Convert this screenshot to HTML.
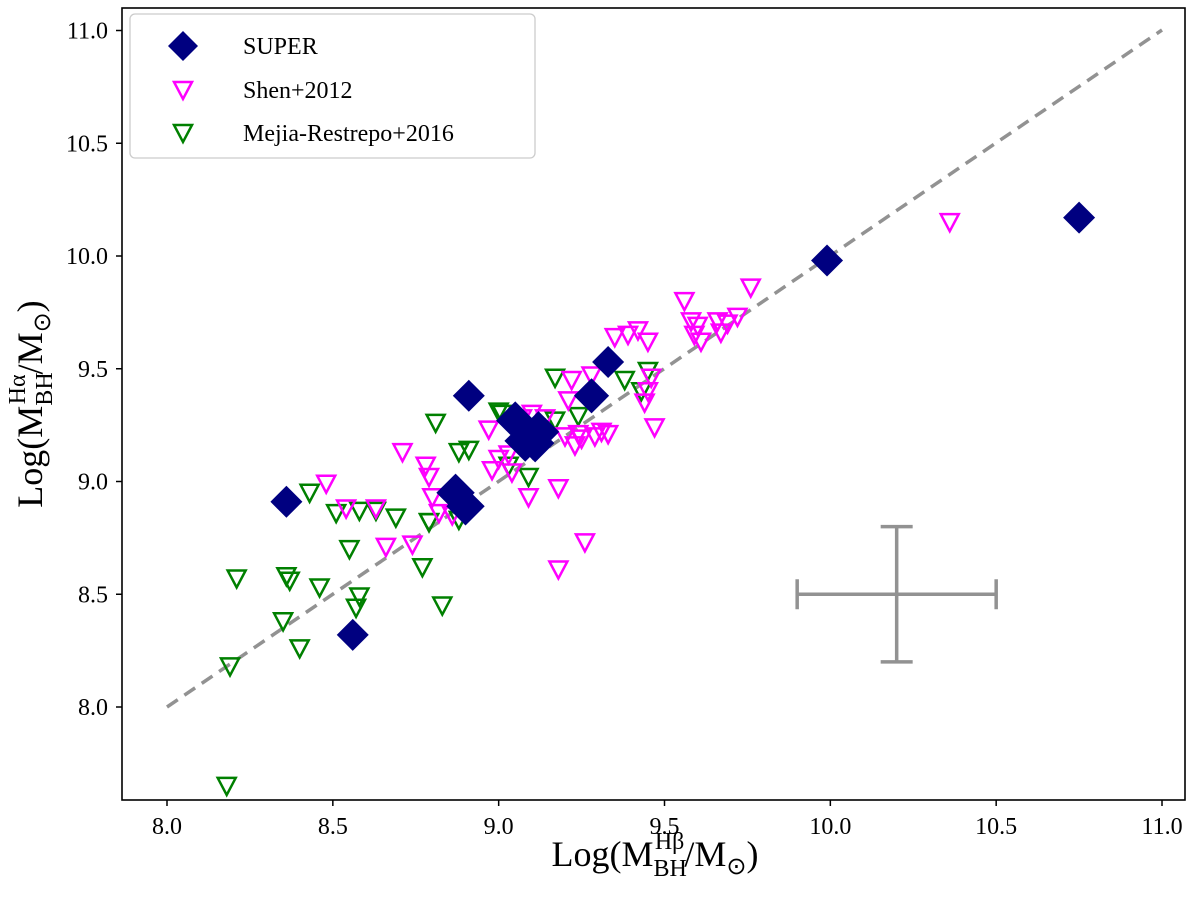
<!DOCTYPE html>
<html><head><meta charset="utf-8"><style>
html,body{margin:0;padding:0;background:#fff}
svg{display:block;font-family:"Liberation Serif",serif}
</style></head><body>
<svg id="chart" width="1200" height="901">
<rect x="122" y="8" width="1063" height="792" fill="#fff" stroke="#000" stroke-width="1.6"/>
<g id="ticks"></g>
<line x1="167" y1="707" x2="1162" y2="30" stroke="#929292" stroke-width="3.5" stroke-dasharray="13,8"/>
<g id="marks"></g>
<g id="errbar"></g>
<g>
<rect x="130" y="14" width="405" height="144" rx="5" fill="#fff" fill-opacity="0.85" stroke="#ccc" stroke-width="1.3"/>
<g><path d="M183,31 L198,46 L183,61 L168,46 Z" fill="#000080"/><text x="243" y="54" font-size="24">SUPER</text></g>
<g><path d="M174,82 L192,82 L183,99 Z" fill="none" stroke="#ff00ff" stroke-width="2.5"/><text x="243" y="98" font-size="24">Shen+2012</text></g>
<g><path d="M174,125 L192,125 L183,142 Z" fill="none" stroke="#008000" stroke-width="2.5"/><text x="243" y="141" font-size="24">Mejia-Restrepo+2016</text></g>
</g>
<text x="655" y="866" font-size="36" text-anchor="middle">Log(M<tspan font-size="24" dy="10">BH</tspan><tspan font-size="24" dx="-32" dy="-27">Hβ</tspan><tspan dy="17">/M</tspan><tspan font-size="24" dy="8">⊙</tspan><tspan dy="-8">)</tspan></text>
<text transform="translate(42,404) rotate(-90)" font-size="36" text-anchor="middle">Log(M<tspan font-size="24" dy="10">BH</tspan><tspan font-size="24" dx="-32" dy="-27">Hα</tspan><tspan dy="17">/M</tspan><tspan font-size="24" dy="8">⊙</tspan><tspan dy="-8">)</tspan></text>
</svg>
<script>
const xTicks=[8.0,8.5,9.0,9.5,10.0,10.5,11.0];
const yTicks=[8.0,8.5,9.0,9.5,10.0,10.5,11.0];
const superX=[8.36,8.56,8.91,8.87,8.90,9.05,9.08,9.12,9.11,9.28,9.33,9.99,10.75];
const superY=[8.91,8.32,9.38,8.95,8.89,9.27,9.18,9.22,9.17,9.38,9.53,9.98,10.17];
const superSize=[1,1,1,1.2,1.2,1.2,1.3,1.3,1.2,1.1,1,1,1];
const shenX=[8.48,8.54,8.63,8.71,8.78,8.79,8.80,8.82,8.66,8.74,8.97,9.0,8.98,9.04,9.09,9.11,9.18,9.14,9.26,9.18,9.21,9.22,9.28,9.31,9.33,9.35,9.39,9.42,9.45,9.46,9.45,9.44,9.47,9.56,9.58,9.59,9.61,9.60,9.66,9.67,9.69,9.72,9.76,10.36,9.25,9.07,9.10,9.20,9.24,9.23,9.29,9.03,8.86];
const shenY=[8.99,8.88,8.88,9.13,9.07,9.02,8.93,8.86,8.71,8.72,9.23,9.10,9.05,9.04,8.93,9.24,8.97,9.28,8.73,8.61,9.36,9.45,9.47,9.22,9.21,9.64,9.65,9.67,9.62,9.46,9.40,9.35,9.24,9.80,9.71,9.65,9.62,9.69,9.71,9.66,9.70,9.73,9.86,10.15,9.19,9.28,9.30,9.20,9.21,9.16,9.20,9.12,8.85];
const mejX=[8.19,8.21,8.35,8.36,8.37,8.46,8.40,8.43,8.51,8.58,8.63,8.69,8.55,8.58,8.57,8.79,8.77,8.83,8.81,8.88,8.91,8.79,8.88,9.00,9.17,9.38,9.45,9.43,9.24,9.17,9.01,9.03,9.09,8.18];
const mejY=[8.18,8.57,8.38,8.58,8.56,8.53,8.26,8.95,8.86,8.87,8.87,8.84,8.70,8.49,8.44,8.82,8.62,8.45,9.26,9.13,9.14,8.82,8.83,9.31,9.46,9.45,9.49,9.40,9.29,9.27,9.30,9.07,9.02,7.65];
const NS="http://www.w3.org/2000/svg";
const X=v=>167+(v-8)*331.67, Y=v=>707-(v-8)*225.5;
const tk=document.getElementById('ticks'), mk=document.getElementById('marks');
function el(t,a,p){const e=document.createElementNS(NS,t);for(const k in a)e.setAttribute(k,a[k]);p.appendChild(e);return e;}
xTicks.forEach(v=>{
 const l=el('line',{x1:X(v),x2:X(v),y1:800,y2:806,stroke:'#000','stroke-width':1.5},tk);
 
 
 const t=el('text',{x:X(v),y:834,'font-size':24,'text-anchor':'middle'},tk);t.textContent=v.toFixed(1);
 
 
});
yTicks.forEach(v=>{
 const l=el('line',{x1:116,x2:122,y1:Y(v),y2:Y(v),stroke:'#000','stroke-width':1.5},tk);
 
 
 const t=el('text',{x:108,y:Y(v)+8,'font-size':24,'text-anchor':'end'},tk);t.textContent=v.toFixed(1);
 
 
});
function tri(x,y,c,name){const cx=X(x),cy=Y(y);
 const p=el('path',{d:`M${cx-9},${cy-8} L${cx+9},${cy-8} L${cx},${cy+9} Z`,fill:'none',stroke:c,'stroke-width':2.5},mk);
 
 }
mejX.forEach((x,i)=>tri(x,mejY[i],'#008000','mejia-point'));
shenX.forEach((x,i)=>tri(x,shenY[i],'#ff00ff','shen-point'));
superX.forEach((x,i)=>{const cx=X(x),cy=Y(superY[i]),r=16*superSize[i];
 const p=el('path',{d:`M${cx},${cy-r} L${cx+r},${cy} L${cx},${cy+r} L${cx-r},${cy} Z`,fill:'#000080'},mk);
 
 });
const eb=document.getElementById('errbar');
const ex=10.2,ey=8.5,exe=0.3,eye=0.3;
[[X(ex-exe),Y(ey),X(ex+exe),Y(ey)],[X(ex),Y(ey+eye),X(ex),Y(ey-eye)],
 [X(ex-exe),Y(ey)-15,X(ex-exe),Y(ey)+15],[X(ex+exe),Y(ey)-15,X(ex+exe),Y(ey)+15],
 [X(ex)-16,Y(ey+eye),X(ex)+16,Y(ey+eye)],[X(ex)-16,Y(ey-eye),X(ex)+16,Y(ey-eye)]].forEach(a=>{
 el('line',{x1:a[0],y1:a[1],x2:a[2],y2:a[3],stroke:'#929292','stroke-width':3.5},eb);});
</script>
</body></html>
